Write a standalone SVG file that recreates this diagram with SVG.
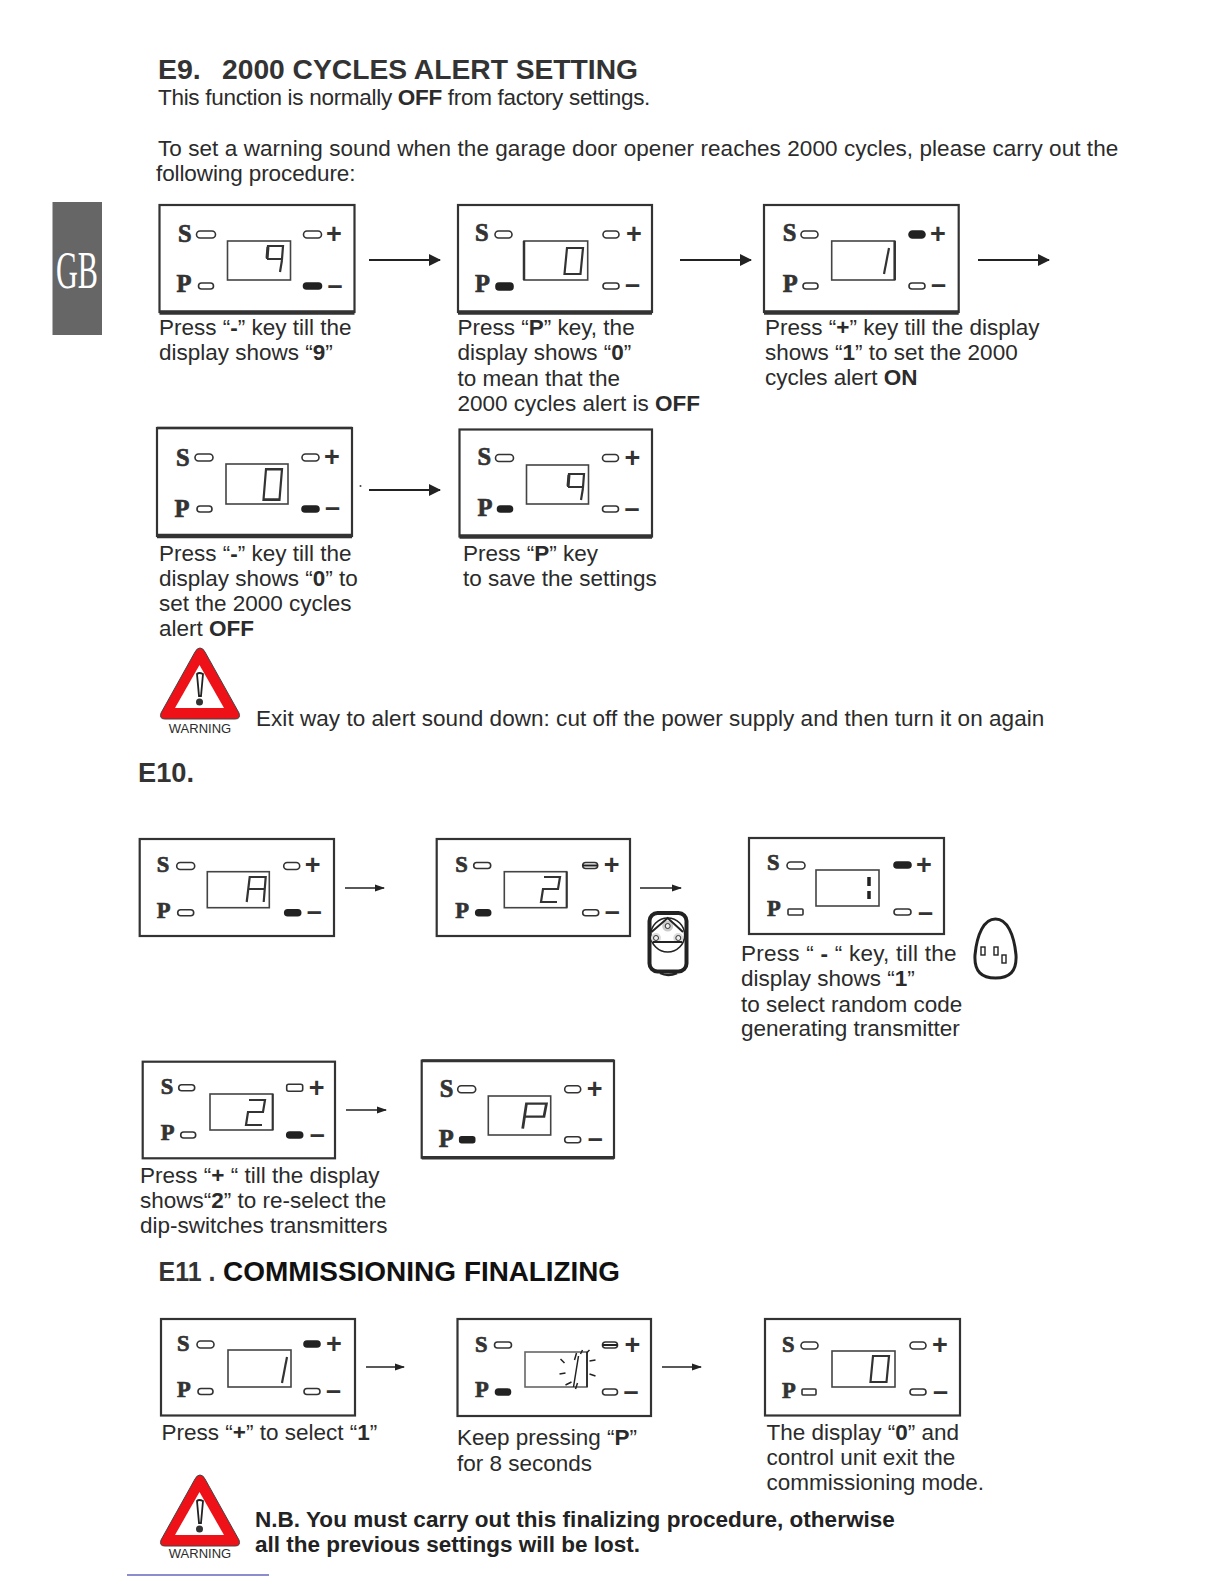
<svg xmlns="http://www.w3.org/2000/svg" width="1224" height="1584" viewBox="0 0 1224 1584">
<style>
text{font-family:"Liberation Sans",Arial,sans-serif;fill:#2b2b2b}
.h{font-size:28.5px;font-weight:700;fill:#333}
.b{font-size:22.5px}
.s{font-weight:700}
.k{font-family:"Liberation Serif","Times New Roman",serif;font-size:24.5px;font-weight:700;fill:#333;stroke:#333;stroke-width:.7px}
.k2{font-size:22.5px}
.g{font-size:27px;font-weight:700;fill:#333}
.nb{font-size:22.5px;font-weight:700;fill:#222}
.box{fill:#fff;stroke:#333;stroke-width:2.200}
.thick{stroke:#333;stroke-width:4.500;fill:none}
.thin{stroke:#333;stroke-width:2.500;fill:none}
.disp{fill:#fff;stroke:#444;stroke-width:1.600}
.led{fill:#fff;stroke:#333;stroke-width:1.600}
.on{fill:#222;stroke:#222;stroke-width:1.600}
.seg{fill:none;stroke:#333;stroke-width:2.200}
.cn{stroke:#222;stroke-width:2;fill:none;marker-end:url(#a)}
.cs{stroke:#222;stroke-width:1.400;fill:none;marker-end:url(#b)}
</style>
<defs>
<marker id="a" markerUnits="userSpaceOnUse" markerWidth="12" markerHeight="12" refX="11" refY="6" orient="auto"><path d="M0 0L12 6L0 12Z" fill="#222"/></marker>
<marker id="b" markerUnits="userSpaceOnUse" markerWidth="10" markerHeight="8" refX="9" refY="4" orient="auto"><path d="M0 .5L10 4L0 7.5Z" fill="#222"/></marker>
<g id="d9" class="seg"><path d="M4 14L5 1H20L19 14H4M19 15L17 27"/><path d="M4 13L5 2" stroke-width="3"/></g>
<g id="d0" class="seg"><path d="M5 1H21L18.500 27H2.500Z"/></g>
<g id="d1" class="seg"><path d="M21 1L16 27"/></g>
<g id="d2" class="seg"><path d="M5 1H21L19 13H4L2 26H18"/></g>
<g id="dA" class="seg"><path d="M2 26L5 1H21L19 26M4 13H20"/></g>
<g id="dP" class="seg"><path d="M2 26L5 1H21L19 14H4"/></g>
<g id="warn">
<path d="M200 648Q203 648 205 652L239 713Q241 719 235 719H165Q159 719 161 713L195 652Q197 648 200 648Z" fill="#ee1118" stroke="#444" stroke-width="1"/>
<path d="M199.500 665L224 708H175Z" fill="#fff"/>
<path d="M197 674Q199 672 203 674L201 696H199Z" fill="#fff" stroke="#222" stroke-width="1.800"/>
<circle cx="199.500" cy="702" r="3.500" fill="#333"/>
</g>
</defs>

<g id="gb-tab"><rect x="52.500" y="202" width="49.500" height="133" fill="#666"/><text x="56" y="288" font-size="52" textLength="42" lengthAdjust="spacingAndGlyphs" style="font-family:'Liberation Serif',serif;fill:#fff">GB</text></g>

<g id="texts">
<text class="h" x="158" y="79">E9.</text><text class="h" x="222" y="79" textLength="416" lengthAdjust="spacingAndGlyphs">2000 CYCLES ALERT SETTING</text>
<text class="b" x="158" y="105" style="letter-spacing:-.3px">This function is normally <tspan class="s">OFF</tspan> from factory settings.</text>
<text class="b" x="158" y="155.500" style="letter-spacing:.065px">To set a warning sound when the garage door opener reaches 2000 cycles, please carry out the</text>
<text class="b" x="156" y="181" style="letter-spacing:-.1px">following procedure:</text>
<text class="b" x="159" y="335">Press “<tspan class="s">-</tspan>” key till the</text>
<text class="b" x="159" y="360">display shows “<tspan class="s">9</tspan>”</text>
<text class="b" x="457.500" y="335">Press “<tspan class="s">P</tspan>” key, the</text>
<text class="b" x="457.500" y="360">display shows “<tspan class="s">0</tspan>”</text>
<text class="b" x="457.500" y="385.500">to mean that the</text>
<text class="b" x="457.500" y="411">2000 cycles alert is <tspan class="s">OFF</tspan></text>
<text class="b" x="765" y="335">Press “<tspan class="s">+</tspan>” key till the display</text>
<text class="b" x="765" y="360">shows “<tspan class="s">1</tspan>” to set the 2000</text>
<text class="b" x="765" y="384.500">cycles alert <tspan class="s">ON</tspan></text>
<text class="b" x="159" y="561">Press “<tspan class="s">-</tspan>” key till the</text>
<text class="b" x="159" y="586">display shows “<tspan class="s">0</tspan>” to</text>
<text class="b" x="159" y="611">set the 2000 cycles</text>
<text class="b" x="159" y="636">alert <tspan class="s">OFF</tspan></text>
<text class="b" x="463" y="561">Press “<tspan class="s">P</tspan>” key</text>
<text class="b" x="463" y="586">to save the settings</text>
<text class="b" x="256" y="726" style="letter-spacing:.04px">Exit way to alert sound down: cut off the power supply and then turn it on again</text>
<text class="h" x="138" y="782" textLength="56" lengthAdjust="spacingAndGlyphs">E10.</text>
<text class="b" x="741" y="961" style="letter-spacing:.25px">Press “ <tspan class="s">-</tspan> “ key, till the</text>
<text class="b" x="741" y="986">display shows “<tspan class="s">1</tspan>”</text>
<text class="b" x="741" y="1011.500">to select random code</text>
<text class="b" x="741" y="1036">generating transmitter</text>
<text class="b" x="140" y="1183">Press “<tspan class="s">+</tspan> “ till the display</text>
<text class="b" x="140" y="1208">shows“<tspan class="s">2</tspan>” to re-select the</text>
<text class="b" x="140" y="1233">dip-switches transmitters</text>
<text class="h" x="158.500" y="1281" textLength="57" lengthAdjust="spacingAndGlyphs">E11 .</text>
<text class="h" x="223" y="1281" textLength="233" lengthAdjust="spacingAndGlyphs" style="fill:#111">COMMISSIONING</text>
<text class="h" x="464" y="1281" textLength="156" lengthAdjust="spacingAndGlyphs" style="fill:#111">FINALIZING</text>
<text class="b" x="161.500" y="1440">Press “<tspan class="s">+</tspan>” to select “<tspan class="s">1</tspan>”</text>
<text class="b" x="457" y="1445">Keep pressing “<tspan class="s">P</tspan>”</text>
<text class="b" x="457" y="1471">for 8 seconds</text>
<text class="b" x="766.500" y="1440">The display “<tspan class="s">0</tspan>” and</text>
<text class="b" x="766.500" y="1465">control unit exit the</text>
<text class="b" x="766.500" y="1489.500">commissioning mode.</text>
<text class="nb" x="255" y="1527" style="letter-spacing:.03px">N.B. You must carry out this finalizing procedure, otherwise</text>
<text class="nb" x="255" y="1552">all the previous settings will be lost.</text>
</g>

<g id="connectors">
<path class="cn" d="M369 260H440"/><path class="cn" d="M680 260H751"/><path class="cn" d="M978 260H1049"/><path class="cn" d="M369 490H440"/>
<circle cx="360.500" cy="486" r="1" fill="#444"/>
<path class="cs" d="M345 888H384"/><path class="cs" d="M640 888H681"/><path class="cs" d="M346 1110H386"/><path class="cs" d="M366 1367H404"/><path class="cs" d="M662 1367H701"/>
</g>

<g id="panel-1" transform="translate(159.500 205)"><rect class="box" width="195" height="107"/><path class="thick" d="M0 107.500H195"/><text class="k" x="18.500" y="36.700">S</text><text class="k" x="17" y="86.700">P</text><rect class="led" x="37" y="26" width="19" height="7" rx="3.500"/><rect class="led" x="39" y="78" width="15" height="6" rx="3"/><rect class="led" x="144" y="26" width="18" height="7" rx="3.500"/><rect class="on" x="144" y="78" width="18" height="6" rx="3"/><text class="g" x="166.500" y="38">+</text><text class="g" x="168" y="88.500">–</text><rect class="disp" x="68" y="36" width="63" height="39"/><use href="#d9" x="103.500" y="40"/></g>
<g id="panel-2" transform="translate(458 205)"><rect class="box" width="194" height="107"/><path class="thick" d="M0 107.500H194"/><text class="k" x="17" y="36">S</text><text class="k" x="17" y="87">P</text><rect class="led" x="37" y="26" width="17" height="7" rx="3.500"/><rect class="on" x="38" y="78" width="17" height="7" rx="3"/><rect class="led" x="145" y="26" width="16" height="7" rx="3.500"/><rect class="led" x="145" y="78" width="16" height="6" rx="3"/><text class="g" x="168" y="38">+</text><text class="g" x="167" y="88">–</text><rect class="disp" x="66" y="36" width="63.700" height="39"/><path d="M66 36V75" class="thin"/><use href="#d0" x="104" y="42"/></g>
<g id="panel-3" transform="translate(764 205)"><rect class="box" width="194.700" height="107"/><path class="thick" d="M0 107.500H194.700"/><text class="k" x="18.700" y="36">S</text><text class="k" x="18.700" y="87">P</text><rect class="led" x="37" y="26" width="17" height="7" rx="3.500"/><rect class="led" x="39" y="78" width="15" height="6" rx="3"/><rect class="on" x="145" y="26" width="16" height="7" rx="3.500"/><rect class="led" x="145" y="78" width="16" height="6" rx="3"/><text class="g" x="166" y="38">+</text><text class="g" x="167" y="88">–</text><rect class="disp" x="67.700" y="36" width="63" height="39"/><path d="M130.700 36V75" class="thin"/><use href="#d1" x="104" y="42"/></g>
<g id="panel-4" transform="translate(157 428)"><rect class="box" width="195" height="108"/><path class="thin" d="M0 0H195"/><path class="thick" d="M0 108H195"/><text class="k" x="19" y="38">S</text><text class="k" x="17.500" y="88.700">P</text><rect class="led" x="38" y="26" width="18" height="7" rx="3.500"/><rect class="led" x="40" y="78" width="15" height="6" rx="3"/><rect class="led" x="145" y="26" width="17" height="7" rx="3.500"/><rect class="on" x="145" y="78" width="17" height="6" rx="3"/><text class="g" x="167" y="38">+</text><text class="g" x="168" y="88.300">–</text><rect class="disp" x="69" y="36" width="62" height="40"/><use href="#d0" transform="translate(104 40) scale(1 1.170)"/></g>
<g id="panel-5" transform="translate(459.500 429.500)"><rect class="box" width="192.500" height="107"/><path class="thick" d="M0 107H192.500"/><text class="k" x="18" y="35.500">S</text><text class="k" x="18" y="86.500">P</text><rect class="led" x="36" y="25" width="18" height="7" rx="3.500"/><rect class="on" x="38" y="76.500" width="15" height="6" rx="3"/><rect class="led" x="143" y="25" width="16" height="7" rx="3.500"/><rect class="led" x="143" y="76.500" width="16" height="6" rx="3"/><text class="g" x="165" y="37">+</text><text class="g" x="165" y="87">–</text><rect class="disp" x="67" y="35.500" width="62" height="39"/><use href="#d9" x="104.500" y="43.500"/></g>

<use href="#warn"/>
<text x="200" y="733" font-size="13" text-anchor="middle">WARNING</text>

<g id="panel-6" transform="translate(139.700 839)"><rect class="box" width="194.300" height="97"/><text class="k k2" x="17" y="33">S</text><text class="k k2" x="17" y="79">P</text><rect class="led" x="37" y="23.500" width="18" height="7" rx="3.500"/><rect class="led" x="38" y="70.700" width="16" height="6" rx="3"/><rect class="led" x="144" y="23.500" width="16" height="7" rx="3.500"/><rect class="on" x="145" y="70.700" width="16" height="6" rx="3"/><text class="g" x="165" y="35">+</text><text class="g" x="167" y="81">–</text><rect class="disp" x="67.600" y="32.700" width="62" height="36"/><use href="#dA" x="105" y="37"/></g>
<g id="panel-7" transform="translate(436.700 839)"><rect class="box" width="193.300" height="97"/><text class="k k2" x="18.500" y="33">S</text><text class="k k2" x="18.500" y="79">P</text><rect class="led" x="37" y="23.500" width="17" height="6" rx="3"/><rect class="on" x="39" y="70.700" width="15" height="6" rx="3"/><rect class="led" x="146" y="23.500" width="15" height="6" rx="3"/><path d="M146 26.500H161" stroke="#222" stroke-width="2"/><rect class="led" x="146" y="70.700" width="16" height="6" rx="3"/><text class="g" x="167" y="35">+</text><text class="g" x="168" y="81">–</text><rect class="disp" x="67.600" y="32.700" width="62.400" height="36"/><path class="thin" style="stroke-width:2" d="M130 32.700V68.700"/><use href="#d2" x="102.300" y="37"/></g>
<g id="panel-8" transform="translate(749 838)"><rect class="box" width="195" height="96"/><text class="k k2" x="18" y="32">S</text><text class="k k2" x="18" y="78">P</text><rect class="led" x="38" y="24" width="18" height="7" rx="3.500"/><rect class="led" x="39" y="71" width="15" height="6" rx="1"/><rect class="on" x="145" y="24" width="17" height="6" rx="3"/><rect class="led" x="145" y="71" width="17" height="6" rx="3"/><text class="g" x="167" y="36">+</text><text class="g" x="169" y="83">–</text><rect class="disp" x="67" y="32" width="63" height="36"/><path d="M120 39V48M120 53V61" stroke="#222" stroke-width="3.500" fill="none"/></g>
<g id="panel-9" transform="translate(142.700 1061.700)"><rect class="box" width="192.300" height="96.600"/><text class="k k2" x="18" y="32.600">S</text><text class="k k2" x="18" y="78.600">P</text><rect class="led" x="36" y="23" width="16" height="6" rx="3"/><rect class="led" x="38" y="70.300" width="15" height="6" rx="3"/><rect class="led" x="144" y="22.500" width="16" height="7" rx="2"/><rect class="on" x="144" y="70.300" width="16" height="6" rx="3"/><text class="g" x="166" y="35">+</text><text class="g" x="167" y="81">–</text><rect class="disp" x="67.300" y="32.300" width="62.700" height="36"/><path class="thin" style="stroke-width:2" d="M130 32.300V68.300"/><use href="#d2" x="101.300" y="37.300"/></g>
<g id="panel-10" transform="translate(421.700 1060.700)"><rect class="box" width="192.300" height="97"/><path class="thin" style="stroke-width:3" d="M0 0H192.300"/><path class="thin" style="stroke-width:3.500" d="M0 97H192.300"/><text class="k" x="18" y="36">S</text><text class="k" x="17" y="86">P</text><rect class="led" x="36" y="25" width="18" height="7" rx="3.500"/><rect class="on" x="38" y="76" width="15" height="6" rx="2"/><rect class="led" x="143" y="25" width="16" height="7" rx="3.500"/><rect class="led" x="143" y="76" width="16" height="6" rx="3"/><text class="g" x="165" y="37.600">+</text><text class="g" x="166" y="86.600">–</text><rect class="disp" x="66.600" y="35.300" width="62.400" height="39"/><use href="#dP" transform="translate(98.500 42) scale(1.250 1)"/></g>

<g id="panel-11" transform="translate(161 1319)"><rect class="box" width="194" height="96.500"/><text class="k k2" x="16" y="32">S</text><text class="k k2" x="16" y="78">P</text><rect class="led" x="36" y="22" width="17" height="7" rx="3.500"/><rect class="led" x="37" y="69.500" width="15" height="6" rx="3"/><rect class="on" x="143" y="22" width="16" height="6" rx="3"/><rect class="led" x="143" y="69.500" width="16" height="6" rx="3"/><text class="g" x="165" y="34">+</text><text class="g" x="165" y="80">–</text><rect class="disp" x="67" y="31" width="63" height="37"/><use href="#d1" x="105" y="37"/></g>
<g id="panel-12" transform="translate(457.500 1319)"><rect class="box" width="193.500" height="97"/><text class="k k2" x="17.500" y="33">S</text><text class="k k2" x="17.500" y="78">P</text><rect class="led" x="37" y="23" width="17" height="6" rx="3"/><rect class="on" x="38" y="70" width="15" height="6" rx="3"/><rect class="led" x="145" y="23" width="15" height="6" rx="3"/><path d="M145 26H160" stroke="#222" stroke-width="2"/><rect class="led" x="145" y="70" width="15" height="6" rx="3"/><text class="g" x="167" y="35">+</text><text class="g" x="166" y="81">–</text><rect class="disp" x="67.500" y="33" width="62" height="35" style="stroke:#666"/><path d="M129.500 33V68" class="thin" style="stroke-width:2"/><path d="M121 37L116 68M117 41L119 34M129 34L132 31M123 35L125 31M103 40L107 44M102 55L108 54M108 66L114 63M118 70L120 64M132 42L138 41M132 55L138 57" fill="none" stroke="#222" stroke-width="1.500"/></g>
<g id="panel-13" transform="translate(765 1319)"><rect class="box" width="195" height="96.500"/><text class="k k2" x="17" y="33">S</text><text class="k k2" x="17" y="79">P</text><rect class="led" x="36" y="23" width="17" height="7" rx="3.500"/><rect class="led" x="37" y="70" width="14" height="6" rx="1"/><rect class="led" x="145" y="23" width="16" height="7" rx="3.500"/><rect class="led" x="145" y="70" width="16" height="6" rx="3"/><text class="g" x="167" y="35">+</text><text class="g" x="168" y="81">–</text><rect class="disp" x="67" y="32" width="63" height="36"/><use href="#d0" x="103" y="36"/></g>

<g id="remote-1"><rect x="649.500" y="913" width="37" height="58.500" rx="8" fill="#fff" stroke="#222" stroke-width="4"/><circle cx="667.700" cy="935" r="17" fill="none" stroke="#222" stroke-width="1.600"/><circle cx="667.700" cy="926" r="5.500" fill="#ccc"/><circle cx="656" cy="938" r="5" fill="#ddd"/><circle cx="678.300" cy="938" r="5" fill="#ddd"/><path d="M651.500 932L667.700 918L683 932M653 942H682" fill="none" stroke="#222" stroke-width="2"/><circle cx="667.700" cy="926" r="2.500" fill="#eee" stroke="#333"/><circle cx="656" cy="938" r="2.500" fill="#eee" stroke="#333"/><circle cx="678.300" cy="938" r="2.500" fill="#eee" stroke="#333"/><path d="M660 973Q668 977 677 973" fill="none" stroke="#222" stroke-width="2.500"/></g>
<g id="remote-2"><path d="M995.500 919C1007 919 1014 934 1016 955C1017 972 1009 978 995.500 978C982 978 974 972 975 955C977 934 984 919 995.500 919Z" fill="#fff" stroke="#222" stroke-width="3"/><rect x="981" y="947" width="4" height="8" fill="#fff" stroke="#222" stroke-width="1.400"/><rect x="994" y="947" width="4" height="8" fill="#fff" stroke="#222" stroke-width="1.400"/><rect x="1002" y="955" width="4" height="8" fill="#fff" stroke="#222" stroke-width="1.400"/></g>

<use href="#warn" y="827"/>
<text x="200" y="1558" font-size="13" text-anchor="middle">WARNING</text>
<path d="M127 1575H269" stroke="#1a1aa0" stroke-width="1.200"/>
</svg>
